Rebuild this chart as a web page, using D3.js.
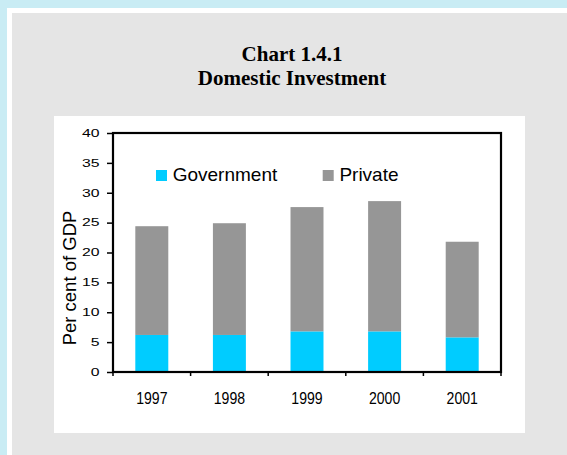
<!DOCTYPE html>
<meta charset="utf-8">
<style>
body { margin: 0; }
svg { display: block; }
.title { font: bold 21px "Liberation Serif", "Times New Roman", serif; fill: #000; }
.ytick text { font: 10.5px "Liberation Sans", Arial, sans-serif; fill: #000; }
.xtick text { font: 16px "Liberation Sans", Arial, sans-serif; fill: #000; }
.legend text { font: 19px "Liberation Sans", Arial, sans-serif; fill: #000; }
.ylabel { font: 18.5px "Liberation Sans", Arial, sans-serif; fill: #000; }
</style>
<svg width="567" height="455"></svg>
<script src="https://cdn.jsdelivr.net/npm/d3@7"></script>
<script>

var years = ["1997", "1998", "1999", "2000", "2001"];
var government = [6.2, 6.2, 6.8, 6.8, 5.8];
var privateInv = [18.2, 18.7, 20.8, 21.8, 16.0];
var seriesNames = ["Government", "Private"];
var seriesColors = ["#00ccff", "#969696"];
var yTicks = [0, 5, 10, 15, 20, 25, 30, 35, 40];

var svg = d3.select("svg");

// page frame
svg.append("rect").attr("width", 567).attr("height", 455).attr("fill", "#c9ecf4");
svg.append("rect").attr("x", 7).attr("y", 8).attr("width", 560).attr("height", 447).attr("fill", "#fff");
svg.append("rect").attr("x", 12).attr("y", 13).attr("width", 555).attr("height", 442).attr("fill", "#e5e5e5");
svg.append("rect").attr("x", 54).attr("y", 116).attr("width", 471).attr("height", 317).attr("fill", "#fff");

// title
svg.append("text").attr("class", "title").attr("x", 292).attr("y", 61)
    .attr("text-anchor", "middle").text("Chart 1.4.1");
svg.append("text").attr("class", "title").attr("x", 292).attr("y", 85)
    .attr("text-anchor", "middle").text("Domestic Investment");

var plotL = 113, plotR = 501, plotT = 133, plotB = 372;

var y = d3.scaleLinear().domain([0, 40]).range([plotB, plotT]);
var x = d3.scaleBand().domain(years).range([plotL, plotR])
    .paddingInner(0.575).paddingOuter(0.2875);
var xCat = d3.scaleBand().domain(years).range([plotL, plotR]);

// stacked data
var rows = years.map(function(yr, i) {
  return { year: yr, Government: government[i], Private: privateInv[i] };
});
var stacked = d3.stack().keys(seriesNames)(rows);

svg.append("g").selectAll("g")
    .data(stacked)
  .enter().append("g")
    .attr("fill", function(d, i) { return seriesColors[i]; })
  .selectAll("rect")
    .data(function(d) { return d; })
  .enter().append("rect")
    .attr("x", function(d) { return x(d.data.year); })
    .attr("width", x.bandwidth())
    .attr("y", function(d) { return y(d[1]); })
    .attr("height", function(d) { return y(d[0]) - y(d[1]); });

// y axis (labels are stretched wide in the original)
var yAxis = svg.append("g").attr("class", "ytick")
    .attr("transform", "translate(" + plotL + ",0)")
    .call(d3.axisLeft(y).tickValues(yTicks).tickSize(6));
yAxis.select(".domain").remove();
yAxis.selectAll("line").attr("stroke", "#000").attr("stroke-width", 1.5);
yAxis.selectAll("text")
    .attr("transform", "scale(1.5,1)")
    .attr("x", -13.5 / 1.5);

// x axis labels (centred on categories, slightly condensed)
var xAxis = svg.append("g").attr("class", "xtick")
    .attr("transform", "translate(0," + plotB + ")")
    .call(d3.axisBottom(xCat).tickSize(0));
xAxis.select(".domain").remove();
xAxis.selectAll("text").attr("y", 32).attr("dy", 0)
    .attr("transform", "scale(0.88,1)");

// x tick marks at category boundaries
var bounds = years.map(function(d) { return xCat(d); }).concat([plotR]);
svg.append("g").selectAll("line")
    .data(bounds)
  .enter().append("line")
    .attr("x1", function(d) { return d; })
    .attr("x2", function(d) { return d; })
    .attr("y1", plotB)
    .attr("y2", plotB + 4)
    .attr("stroke", "#000")
    .attr("stroke-width", 1.5);

// plot border
svg.append("rect")
    .attr("x", plotL).attr("y", plotT)
    .attr("width", plotR - plotL).attr("height", plotB - plotT)
    .attr("fill", "none").attr("stroke", "#000").attr("stroke-width", 2.2);

// y label
svg.append("text").attr("class", "ylabel")
    .attr("transform", "translate(76,278) rotate(-90)")
    .attr("text-anchor", "middle")
    .text("Per cent of GDP");

// legend
var legendX = [156, 322.7];
var legend = svg.append("g").attr("class", "legend").selectAll("g")
    .data(seriesNames)
  .enter().append("g")
    .attr("transform", function(d, i) { return "translate(" + legendX[i] + ",170)"; });
legend.append("rect").attr("width", 11).attr("height", 11)
    .attr("fill", function(d, i) { return seriesColors[i]; });
legend.append("text").attr("x", 16.7).attr("y", 11).text(function(d) { return d; });

</script>
